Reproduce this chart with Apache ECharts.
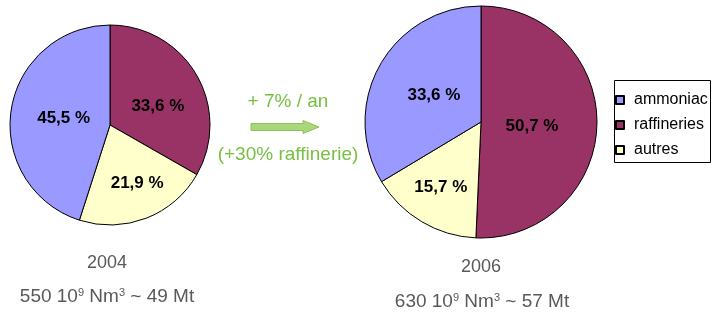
<!DOCTYPE html>
<html lang="fr">
  <head>
    <meta charset="UTF-8" />
    <title>Hydrogène</title>
    <script src="https://cdn.jsdelivr.net/npm/echarts@6/dist/echarts.min.js"></script>
    <style>
      html, body { margin: 0; padding: 0; background: #fff; }
      #main { width: 714px; height: 313px; }
    </style>
  </head>
  <body>
    <div id="main"></div>
    <script>
      // ordre des secteurs (sens horaire depuis midi)
      var categories = ["raffineries", "autres", "ammoniac"];
      var legendNames = ["ammoniac", "raffineries", "autres"];
      var colors = { ammoniac: "#9999ff", raffineries: "#993366", autres: "#ffffcc" };
      var values2004 = [33.6, 21.9, 45.5];
      var values2006 = [50.7, 15.7, 33.6];

      // petits décalages des étiquettes (placement façon Excel)
      var labelShift2004 = [[2, 8], [8, 9], [6, 2]];
      var labelShift2006 = [[-10, 3], [-9, 13], [6, 3]];

      var font = "'Liberation Sans', Arial, sans-serif";

      function pieData(values) {
        return categories.map(function (c, i) {
          return { name: c, value: values[i], itemStyle: { color: colors[c] } };
        });
      }

      function pieSeries(values, center, radius, shift) {
        return {
          type: "pie",
          center: center,
          radius: radius,
          startAngle: 90,
          clockwise: true,
          silent: true,
          itemStyle: { borderColor: "#000", borderWidth: 1 },
          label: {
            position: "inside",
            color: "#000",
            fontFamily: font,
            fontWeight: "bold",
            fontSize: 17,
            formatter: function (p) {
              return p.value.toFixed(1).replace(".", ",") + " %";
            },
          },
          labelLayout: function (p) {
            var s = shift[p.dataIndex];
            return { dx: s[0], dy: s[1] };
          },
          labelLine: { show: false },
          emphasis: { disabled: true },
          data: pieData(values),
        };
      }

      var chart = echarts.init(document.getElementById("main"));
      var greyText = { fontFamily: font, fontSize: 18, fill: "#595959", align: "center" };
      var subText = { fontFamily: font, fontSize: 19, fill: "#595959", align: "center" };
      var rich = {
        sup: { fontFamily: font, fontSize: 11, verticalAlign: "top", padding: [0, 0, 9, 0], color: "#595959" },
      };

      var option = {
        animation: false,
        legend: {
          data: legendNames,
          orient: "vertical",
          left: 615,
          top: 92,
          padding: [0, 0, 0, 0],
          itemGap: 9,
          itemWidth: 8,
          itemHeight: 8,
          icon: "rect",
          selectedMode: false,
          textStyle: { fontFamily: font, fontSize: 16, color: "#000", padding: [0, 0, 0, 5] },
        },
        series: [
          pieSeries(values2004, [110, 125], 100, labelShift2004),
          pieSeries(values2006, [481, 122], 116, labelShift2006),
        ],
        graphic: [
          {
            type: "rect",
            shape: { x: 614.5, y: 80.5, width: 96, height: 82 },
            style: { fill: "none", stroke: "#000", lineWidth: 1 },
          },
          { type: "text", x: 107, y: 254, style: Object.assign({ text: "2004" }, greyText) },
          {
            type: "text",
            x: 107,
            y: 287,
            style: Object.assign({ text: "550 10{sup|9} Nm{sup|3} ~ 49 Mt", rich: rich }, subText),
          },
          { type: "text", x: 481, y: 258, style: Object.assign({ text: "2006" }, greyText) },
          {
            type: "text",
            x: 482,
            y: 292,
            style: Object.assign({ text: "630 10{sup|9} Nm{sup|3} ~ 57 Mt", rich: rich }, subText),
          },
          {
            type: "text",
            x: 288,
            y: 92,
            style: { text: "+ 7% / an", fontFamily: font, fontSize: 19, fill: "#77c043", align: "center" },
          },
          {
            type: "text",
            x: 288,
            y: 145,
            style: { text: "(+30% raffinerie)", fontFamily: font, fontSize: 19, fill: "#77c043", align: "center" },
          },
          {
            type: "polygon",
            shape: {
              points: [
                [251, 123.5], [303, 123.5], [303, 120.5], [319, 127],
                [303, 133.5], [303, 130.5], [251, 130.5],
              ],
            },
            style: { fill: "#a9d77a", stroke: "#8cc35a", lineWidth: 1 },
          },
        ],
      };
      chart.setOption(option);
    </script>
  </body>
</html>
